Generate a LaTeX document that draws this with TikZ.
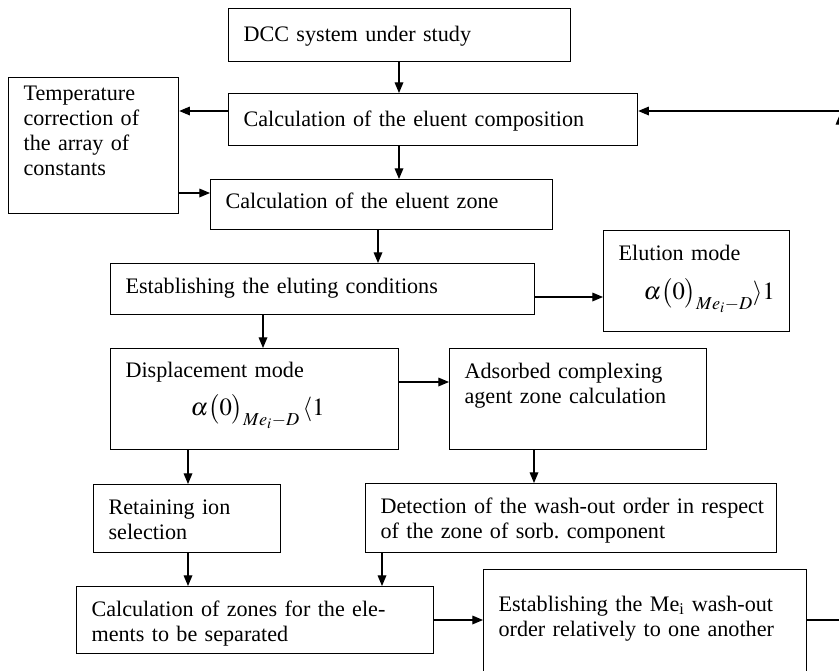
\documentclass[tikz,border=0pt]{standalone}
\usepackage{mathptmx}
\usepackage[no-math]{fontspec}
\setmainfont{Liberation Serif}
\usepackage{tikz}
\usetikzlibrary{arrows.meta, positioning}
\newcommand{\formsize}{\fontsize{18.5}{20}\selectfont}
\frenchspacing

\begin{document}
\begin{tikzpicture}[x=0.75pt, y=-0.75pt,
    block/.style={draw, line width=0.9pt, anchor=north west, align=left,
                  inner xsep=11.25pt, inner ysep=3pt,
                  font={\fontsize{16.6}{18.75}\selectfont}},
    flow/.style={-{Triangle[length=8pt, width=6.5pt]}, line width=0.9pt}
]
    \useasboundingbox (0,0) rectangle (839,671);

    \node[block, text width=234pt, text height=21.4pt, text depth=12.4pt] (dcc) at (228,8) {DCC system under study};
    \node[block, text width=284.25pt, text height=21.4pt, text depth=11.6pt] (comp) at (228,93) {Calculation of the eluent composition};
    \node[block, text width=105pt, text height=13.9pt, text depth=82.1pt] (temp) at (8,77) {Temperature\\correction of\\the array of\\constants};
    \node[block, text width=234pt, text height=18.4pt, text depth=13.1pt] (zone) at (210,179) {Calculation of the eluent zone};
    \node[block, text width=295.5pt, text height=19.1pt, text depth=13.1pt] (estab) at (110,263) {Establishing the eluting conditions};
    \node[block, text width=117pt, text height=19.1pt, text depth=50.6pt] (elut) at (603,230) {Elution mode\\[11pt]\hspace*{18.75pt}{\formsize$\alpha\bigl(0\bigr)_{Me_i-D}\rangle 1$}};
    \node[block, text width=193.5pt, text height=18.4pt, text depth=51.4pt] (disp) at (110,348) {Displacement mode\\[8.6pt]\hspace*{48.75pt}{\formsize$\alpha\bigl(0\bigr)_{Me_i-D}\,\langle 1$}};
    \node[block, text width=170.25pt, text height=19.1pt, text depth=50.6pt] (ads) at (449,348) {Adsorbed complexing\\agent zone calculation};
    \node[block, text width=117.75pt, text height=19.1pt, text depth=25.9pt] (ret) at (93,484) {Retaining ion\\selection};
    \node[block, text width=285.75pt, text height=19.5pt, text depth=26.25pt] (det) at (365,483) {\mbox{Detection of the wash-out order in respect}\\of the zone of sorb. component};
    \node[block, text width=245.25pt, text height=19.1pt, text depth=25.1pt] (calc) at (76,586) {Calculation of zones for the ele-\\ments to be separated};
    \node[block, text width=219.75pt, text height=28.1pt, text depth=48.4pt] (me) at (483,569) {Establishing the Me\textsubscript{i} wash-out\\order relatively to one another};

    \coordinate (colA) at (399,0);
    \coordinate (colB) at (378,0);
    \coordinate (colC) at (263,0);
    \coordinate (colD) at (188,0);
    \coordinate (colE) at (534,0);
    \coordinate (colF) at (382,0);
    \coordinate (rowA) at (0,111);
    \coordinate (rowB) at (0,193);
    \coordinate (rowC) at (0,297);
    \coordinate (rowD) at (0,382);
    \coordinate (rowE) at (0,620);
    \coordinate (loopR) at (840,620);
    \coordinate (loopT) at (840,114);
    \coordinate (loopE) at (840,111);

    \draw[flow] (dcc.south -| colA) -- (comp.north -| colA);
    \draw[flow] (comp.south -| colA) -- (zone.north -| colA);
    \draw[flow] (comp.west |- rowA) -- (temp.east |- rowA);
    \draw[flow] (temp.east |- rowB) -- (zone.west |- rowB);
    \draw[flow] (zone.south -| colB) -- (estab.north -| colB);
    \draw[flow] (estab.east |- rowC) -- (elut.west |- rowC);
    \draw[flow] (estab.south -| colC) -- (disp.north -| colC);
    \draw[flow] (disp.east |- rowD) -- (ads.west |- rowD);
    \draw[flow] (disp.south -| colD) -- (ret.north -| colD);
    \draw[flow] (ads.south -| colE) -- (det.north -| colE);
    \draw[flow] (ret.south -| colD) -- (calc.north -| colD);
    \draw[flow] (det.south -| colF) -- (calc.north -| colF);
    \draw[flow] (calc.east |- rowE) -- (me.west |- rowE);
    \draw[line width=0.9pt] (me.east |- rowE) -- (loopR);
    \draw[flow] (loopR) -- (loopT);
    \draw[flow] (loopE) -- (comp.east |- rowA);
\end{tikzpicture}
\end{document}
